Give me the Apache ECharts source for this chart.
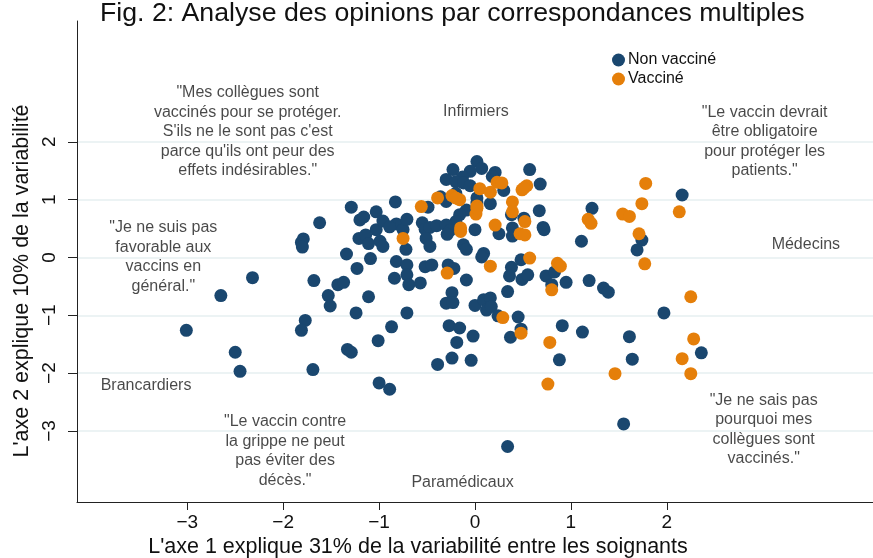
<!DOCTYPE html>
<html>
<head>
<meta charset="utf-8">
<script src="https://cdn.jsdelivr.net/npm/echarts@6/dist/echarts.min.js"></script>
<style>
  html, body { margin: 0; padding: 0; background: #fff; }
  #chart { width: 873px; height: 558px; }
</style>
</head>
<body>
<div id="chart"></div>
<script>
/* ACM des opinions - nuage des soignants sur les axes 1 et 2 */
const chart = echarts.init(document.getElementById('chart'));

const FONT = '"Liberation Sans", Arial, Helvetica, sans-serif';
const NAVY = '#1a476f';
const ORANGE = '#e57f0a';

// coordonnees [axe 1, axe 2]
const nonVaccines = [
  [-1.29, 0.87], [-1.03, 0.79], [-1.20, 0.65], [-1.16, 0.70], [-1.62, 0.60], [-1.03, 0.48],
  [-1.79, 0.32], [-1.81, 0.26], [-1.80, 0.18], [-1.21, 0.33], [-1.14, 0.39], [-1.11, 0.24],
  [-1.34, 0.06], [-1.09, -0.02], [-1.23, -0.19], [-2.32, -0.35], [-1.68, -0.40], [-1.43, -0.47],
  [-1.37, -0.43], [-1.53, -0.66], [-1.51, -0.84], [-2.65, -0.66], [-1.11, -0.68], [-1.24, -0.96],
  [-1.77, -1.09], [-1.81, -1.26], [-3.01, -1.26], [-1.01, -1.44], [-2.50, -1.64], [-1.33, -1.59],
  [-1.29, -1.64], [-2.45, -1.97], [-1.69, -1.94], [-1.00, -2.17],
  [0.02, 1.66], [0.07, 1.54], [-0.23, 1.52], [-0.30, 1.35], [-0.05, 1.49], [-0.13, 1.39],
  [0.21, 1.47], [0.18, 1.40], [0.57, 1.52], [0.68, 1.27], [-0.20, 1.31], [-0.12, 1.29],
  [-0.05, 1.24], [0.30, 1.16], [-0.36, 1.05], [-0.30, 0.97], [-0.20, 1.11], [-0.49, 0.87],
  [0.02, 1.03], [0.02, 0.94], [0.16, 0.93], [-0.83, 0.96], [-0.09, 0.82], [-0.16, 0.74],
  [-0.20, 0.62], [0.38, 0.74], [0.51, 0.68], [0.67, 0.81], [-0.96, 0.63], [-0.82, 0.58],
  [-0.89, 0.53], [-0.75, 0.48], [-0.71, 0.66], [-0.55, 0.60], [-0.52, 0.49], [-0.47, 0.52],
  [-0.40, 0.55], [-0.30, 0.56], [-0.26, 0.47], [-0.29, 0.40], [0.00, 0.48], [0.25, 0.41],
  [0.39, 0.51], [0.39, 0.37], [0.71, 0.52], [0.72, 0.48], [1.11, 0.28], [1.22, 0.85],
  [-0.51, 0.33], [-0.47, 0.19], [-0.72, 0.14], [-0.99, 0.28], [-0.96, 0.19], [-0.12, 0.22],
  [-0.09, 0.14], [0.09, 0.07], [0.07, 0.01], [-0.82, -0.07], [-0.71, -0.13], [-0.52, -0.16],
  [-0.45, -0.13], [-0.28, -0.13], [-0.22, -0.19], [0.38, -0.17], [0.36, -0.32], [0.48, -0.04],
  [0.49, -0.38], [0.55, -0.30], [0.74, -0.32], [0.83, -0.25], [0.80, -0.47], [0.95, -0.43],
  [1.19, -0.40], [-0.84, -0.36], [-0.71, -0.30], [-0.69, -0.47], [-0.57, -0.44], [-0.09, -0.39],
  [0.34, -0.59], [-0.24, -0.61], [-0.30, -0.79], [-0.23, -0.78], [0.00, -0.83], [0.09, -0.73],
  [0.16, -0.70], [0.12, -0.91], [0.17, -0.85], [0.24, -1.01], [0.45, -1.03], [0.48, -1.24],
  [0.37, -1.38], [-0.71, -0.96], [-0.87, -1.20], [-0.27, -1.18], [-0.16, -1.22], [-0.19, -1.47],
  [-0.02, -1.36], [0.91, -1.18], [1.12, -1.29], [0.88, -1.77], [-0.39, -1.85], [-0.24, -1.74],
  [-0.04, -1.78], [-0.89, -2.28], [2.16, 1.08], [1.74, 0.30], [1.69, 0.13], [1.34, -0.53],
  [1.39, -0.60], [1.97, -0.96], [1.61, -1.37], [1.64, -1.76], [2.36, -1.65], [1.55, -2.88],
  [0.34, -3.27]
];

const vaccines = [
  [-0.56, 0.88], [-0.39, 1.03], [-0.24, 1.07], [-0.16, 1.00], [-0.20, 1.03], [0.05, 1.19],
  [0.16, 1.13], [0.23, 1.30], [0.28, 1.29], [0.49, 1.17], [0.54, 1.24], [0.51, 1.20],
  [0.39, 0.96], [0.39, 0.79], [0.02, 0.89], [0.01, 0.75], [0.02, 0.85], [0.52, 0.62],
  [0.21, 0.56], [-0.15, 0.51], [-0.15, 0.45], [0.47, 0.41], [0.52, 0.39], [-0.75, 0.33],
  [1.18, 0.66], [1.21, 0.59], [0.57, -0.01], [0.16, -0.15], [0.86, -0.10], [0.89, -0.15],
  [-0.29, -0.27], [0.80, -0.56], [0.29, -1.04], [0.48, -1.31], [0.78, -1.47], [0.76, -2.19],
  [1.78, 1.28], [1.74, 0.93], [2.13, 0.79], [1.54, 0.75], [1.61, 0.71], [1.71, 0.41],
  [1.77, -0.11], [2.25, -0.68], [2.28, -1.41], [2.16, -1.75], [1.46, -2.01], [2.25, -2.01]
];

// modalites et verbatims places dans le plan
const annotations = [
  { value: [-2.37, 2.17], name: '"Mes collègues sont\nvaccinés pour se protéger.\nS\'ils ne le sont pas c\'est\nparce qu\'ils ont peur des\neffets indésirables."' },
  { value: [-3.25, 0.01], name: '"Je ne suis pas\nfavorable aux\nvaccins en\ngénéral."' },
  { value: [0.01, 2.52], name: 'Infirmiers' },
  { value: [3.02, 2.00], name: '"Le vaccin devrait\nêtre obligatoire\npour protéger les\npatients."' },
  { value: [3.45, 0.22], name: 'Médecins' },
  { value: [-3.43, -2.22], name: 'Brancardiers' },
  { value: [-1.98, -3.35], name: '"Le vaccin contre\nla grippe ne peut\npas éviter des\ndécès."' },
  { value: [-0.13, -3.90], name: 'Paramédicaux' },
  { value: [3.01, -2.98], name: '"Je ne sais pas\npourquoi mes\ncollègues sont\nvaccinés."' }
];

const xTicks = [-3, -2, -1, 0, 1, 2];
const yTicks = [-3, -2, -1, 0, 1, 2];

const minus = (v) => (v < 0 ? '\u2212' + Math.abs(v) : String(v));

chart.setOption({
  animation: false,
  textStyle: { fontFamily: FONT },
  grid: { left: 77, right: 0, top: 21, bottom: 56, containLabel: false },
  legend: {
    data: ['Non vacciné', 'Vacciné'],
    orient: 'vertical', left: 607, top: 47,
    icon: 'circle', itemWidth: 13, itemHeight: 13, itemGap: 3,
    textStyle: { fontFamily: FONT, fontSize: 16, color: '#111', padding: [0, 0, 0, -2] }
  },
  xAxis: {
    type: 'value', min: -4.15, max: 4.15,
    axisLine: { show: true, onZero: false, lineStyle: { color: '#222', width: 1 } },
    axisTick: { show: true, length: 8, customValues: xTicks, lineStyle: { color: '#222' } },
    axisLabel: { customValues: xTicks, formatter: minus, fontSize: 19, color: '#111', margin: 11 },
    splitLine: { show: false }
  },
  yAxis: {
    type: 'value', min: -4.23, max: 4.09,
    axisLine: { show: true, onZero: false, lineStyle: { color: '#222', width: 1 } },
    axisTick: { show: true, length: 9, customValues: yTicks, lineStyle: { color: '#222' } },
    axisLabel: { customValues: yTicks, formatter: minus, fontSize: 19, color: '#111', rotate: 90, margin: 18 },
    splitLine: { show: true, lineStyle: { color: '#e6eff1', width: 1.5 } }
  },
  graphic: [
    { type: 'text', left: 100, top: 0,
      style: { text: 'Fig. 2: Analyse des opinions par correspondances multiples', font: '26.7px ' + FONT, fill: '#111' } },
    { type: 'text', x: 418, y: 547,
      style: { text: 'L\'axe 1 explique 31% de la variabilité entre les soignants', font: '21.5px ' + FONT, fill: '#111', align: 'center', verticalAlign: 'middle' } },
    { type: 'text', x: 22, y: 281, rotation: Math.PI / 2,
      style: { text: 'L\'axe 2 explique 10% de la variabilité', font: '21.5px ' + FONT, fill: '#111', align: 'center', verticalAlign: 'middle' } }
  ],
  series: [
    { name: 'Non vacciné', type: 'scatter', data: nonVaccines, symbolSize: 13,
      itemStyle: { color: NAVY, opacity: 1 }, z: 3 },
    { name: 'Vacciné', type: 'scatter', data: vaccines, symbolSize: 13,
      itemStyle: { color: ORANGE, opacity: 1 }, z: 4 },
    { name: 'labels', type: 'scatter', data: annotations, symbolSize: 0, silent: true, z: 5,
      label: { show: true, position: 'inside', formatter: (p) => p.name,
        fontFamily: FONT, fontSize: 16, lineHeight: 19.5, color: '#1a1a1a', align: 'center', verticalAlign: 'middle' } }
  ]
});
</script>
</body>
</html>
